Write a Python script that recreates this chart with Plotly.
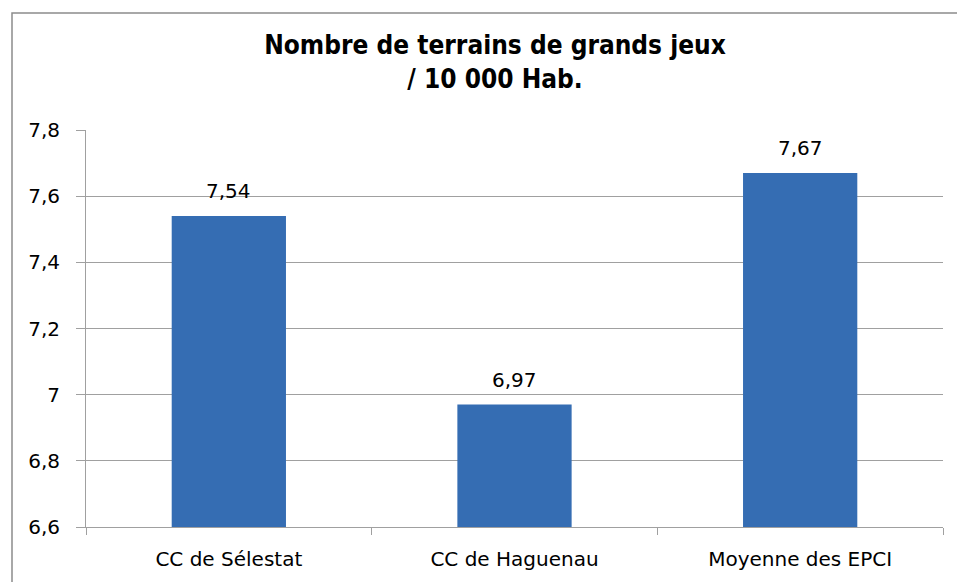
import plotly.graph_objects as go

categories = ["CC de Sélestat", "CC de Haguenau", "Moyenne des EPCI"]
values = [7.54, 6.97, 7.67]
title_lines = ["Nombre de terrains de grands jeux", "/ 10 000 Hab."]
y_range = [6.6, 7.8]

W, H = 957, 582
L, R, T, B = 86, 14, 130, 55
pw, ph = W - L - R, H - T - B

def px_x(x):
    return (x - L) / pw

def px_y(y):
    return (H - B - y) / ph

fig = go.Figure()
fig.add_trace(go.Bar(
    x=categories, y=values,
    marker=dict(color="#356db3", line=dict(width=0)),
    hoverinfo="x+y",
))

annotations = []
for c, v in zip(categories, values):
    annotations.append(dict(
        x=c, y=v, xref="x", yref="y",
        text=f"{v:.2f}".replace(".", ","),
        showarrow=False, yanchor="middle", yshift=25,
        font=dict(family="DejaVu Sans", size=20, color="#000000"),
    ))

title_font = dict(family="Liberation Sans Narrow, DejaVu Sans Condensed, sans-serif", size=26, color="#000000")

fig.update_layout(
    width=W, height=H,
    margin=dict(l=L, r=R, t=T, b=B, pad=0),
    paper_bgcolor="white", plot_bgcolor="white",
    separators=", ",
    bargap=0.6,
    showlegend=False,
    font=dict(family="DejaVu Sans", size=20, color="#000000"),
    title=dict(
        text="<b>" + "<br>".join(title_lines) + "</b>",
        x=495 / W, xanchor="center",
        y=1 - 54 / H, yanchor="middle", yref="container",
        font=title_font,
    ),
    annotations=annotations,
    shapes=[dict(
        type="rect", xref="paper", yref="paper",
        x0=px_x(12), x1=px_x(990), y0=px_y(620), y1=px_y(13),
        line=dict(color="#8c8c8c", width=1.5), fillcolor="rgba(0,0,0,0)",
        layer="above",
    )],
    xaxis=dict(
        showline=True, linecolor="#a0a0a0", linewidth=1,
        ticks="outside", tickson="boundaries", ticklen=7, tickcolor="#a0a0a0",
        showgrid=False, ticklabelstandoff=14,
        tickfont=dict(family="DejaVu Sans", size=20, color="#000000"),
    ),
    yaxis=dict(
        range=y_range, tick0=6.6, dtick=0.2,
        showline=True, linecolor="#a0a0a0", linewidth=1,
        ticks="outside", ticklen=9, tickcolor="#a0a0a0",
        showgrid=True, gridcolor="#a0a0a0", gridwidth=1,
        zeroline=False, ticklabelstandoff=12,
        tickfont=dict(family="DejaVu Sans", size=20, color="#000000"),
    ),
)

fig.write_html(
    "out.html",
    config={"displayModeBar": False},
    post_script="document.body.style.margin='0';document.body.style.padding='0';",
)
